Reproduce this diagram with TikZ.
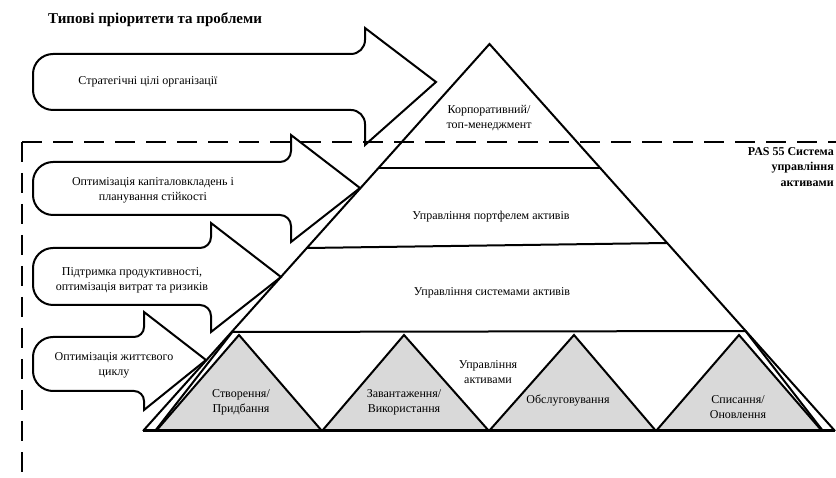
\documentclass[tikz,border=0pt]{standalone}
\usepackage{fontspec}
\setmainfont{Liberation Serif}
\newcommand{\fatarrow}[9]{%
 \draw[shapeline] (#4,#5) -- (#7,#8) -- (#4,#6) -- (#4,{#3+#9})
  .. controls (#4,{#3+0.448*#9}) and ({#4-0.448*#9},#3) .. ({#4-#9},#3)
  -- (53,#3) .. controls (42,#3) and (33,{#3-9}) .. (33,{#3-20})
  -- (33,{#2+20}) .. controls (33,{#2+9}) and (42,#2) .. (53,#2)
  -- ({#4-#9},#2) .. controls ({#4-0.448*#9},#2) and (#4,{#2-0.448*#9}) .. (#4,{#2-#9})
  -- cycle;}
\begin{document}
\begin{tikzpicture}[x=1pt,y=-1pt]
\tikzset{
 shapeline/.style={draw=black, line width=2pt, line join=miter},
 pyrline/.style={draw=black, line width=2pt, line cap=round},
 greytri/.style={draw=black, fill=greyfill, line width=2pt, line join=miter},
 lbl/.style={font=\fontsize{12}{15}\selectfont, align=center, inner sep=0pt},
 boldlbl/.style={font=\bfseries\fontsize{12}{15.5}\selectfont, inner sep=0pt},
 frame/.style={draw=black, line width=2.5pt, dash pattern=on 20pt off 11pt},
}
\definecolor{greyfill}{HTML}{D9D9D9}
\useasboundingbox (0,0) rectangle (836,478);

% dashed PAS 55 frame
\draw[frame] (22,142) -- (836,142);
\draw[frame] (22,142) -- (22,478);

% grey lifecycle triangles
\draw[greytri] (156,431) -- (239,335) -- (322,431) -- cycle;
\draw[greytri] (322,431) -- (404,335) -- (489,431) -- cycle;
\draw[greytri] (489,431) -- (574,335) -- (656,431) -- cycle;
\draw[greytri] (656,431) -- (739,335) -- (822,431) -- cycle;

% pyramid
\coordinate (apex) at (489.5,44);
\coordinate (bl) at (143,431);
\coordinate (br) at (835,431);
\draw[shapeline] (bl) -- (apex) -- (br);
\draw[draw=black, line width=3pt] (bl) -- (br);
\draw[pyrline] (378.8,168) -- (600.3,168);
\draw[pyrline] (307.3,248) -- (666.6,243);
\draw[pyrline] (232.3,332) -- (745.5,331);
\draw[pyrline] (155,431) -- (232.3,332);
\draw[pyrline] (745.5,331) -- (823,431);

% arrows
\fatarrow{33}{54}{110}{365}{28}{145}{436}{82}{14}
\fatarrow{33}{162}{215}{291}{135}{242}{360}{188}{11}
\fatarrow{33}{248}{305}{211}{223}{332}{281}{277}{11}
\fatarrow{33}{337}{391}{144}{312}{410}{206}{360}{10}

% texts
\node[boldlbl, anchor=west, font=\bfseries\fontsize{15}{18}\selectfont] (title) at (48,20) {Типові пріоритети та проблеми};
\node[boldlbl, anchor=east, align=right] (pas) at (834,167) {PAS 55 Система\\управління\\активами};

\node[lbl] (a1) at (148,82) {Стратегічні цілі організації};
\node[lbl] (a2) at (153,190.5) {Оптимізація капіталовкладень і\\планування стійкості};
\node[lbl] (a3) at (132,280) {Підтримка продуктивності,\\оптимізація витрат та ризиків};
\node[lbl] (a4) at (114,365.5) {Оптимізація життєвого\\циклу};

\node[lbl] (corp) at (489,118) {Корпоративний/\\топ-менеджмент};
\node[lbl] (portf) at (491,217) {Управління портфелем активів};
\node[lbl] (sys) at (492,293) {Управління системами активів};
\node[lbl] (am) at (488,372) {Управління\\активами};

\node[lbl] (c1) at (241,402) {Створення/\\Придбання};
\node[lbl] (c2) at (404,402) {Завантаження/\\Використання};
\node[lbl] (c3) at (568,401) {Обслуговування};
\node[lbl] (c4) at (738,407) {Списання/\\Оновлення};
\end{tikzpicture}
\end{document}
